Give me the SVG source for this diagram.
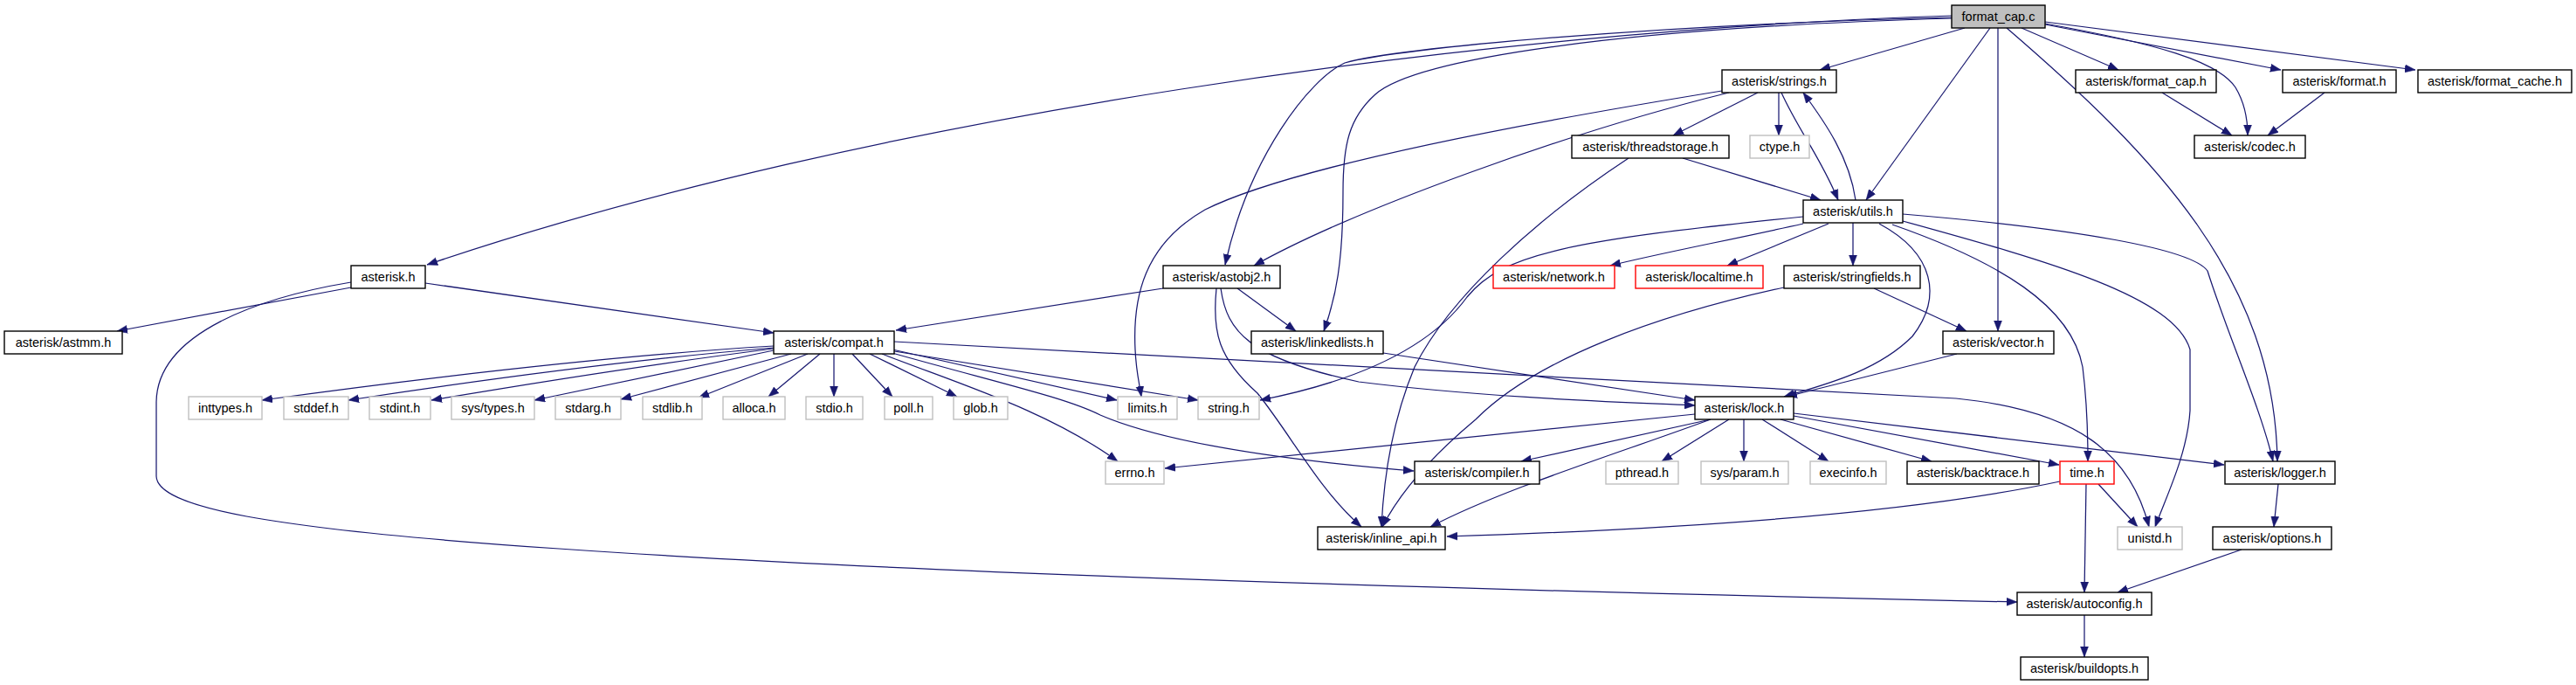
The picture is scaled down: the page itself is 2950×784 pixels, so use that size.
<svg xmlns="http://www.w3.org/2000/svg" width="2950" height="784" viewBox="0 0 2950 784">
<style>
rect{fill:#fff;stroke:#000;stroke-width:1.4}
rect.g{stroke:#bfbfbf}
rect.r{stroke:#ff0000}
rect.root{fill:#bfbfbf}
text{font-family:"Liberation Sans",Arial,sans-serif;font-size:14.5px;fill:#000;text-anchor:middle}
#edges path{fill:none;stroke:#191970;stroke-width:1.25;marker-end:url(#a)}
</style>
<defs>
<marker id="a" markerUnits="userSpaceOnUse" markerWidth="13" markerHeight="10" refX="12" refY="5" orient="auto">
<path d="M0,0.5 L12,5 L0,9.5 z" fill="#191970" stroke="#191970" stroke-width="0.5"/>
</marker>
</defs>
<rect x="0" y="0" width="2950" height="784" style="fill:#fff;stroke:none"/>
<g id="edges">
<path d="M2250,32 L2084,80"/>
<path d="M2235,18 C1700,35 1000,130 489,303"/>
<path d="M2235,20 C1900,28 1600,55 1540,72 C1500,90 1430,180 1403,303"/>
<path d="M2235,21 C1850,32 1620,68 1575,108 C1545,135 1538,165 1538,220 C1538,300 1530,340 1516,379"/>
<path d="M2279,32 L2137,229"/>
<path d="M2288,32 L2288,379"/>
<path d="M2298,32 C2470,180 2605,320 2608,528"/>
<path d="M2315,32 L2426,80"/>
<path d="M2342,28 L2612,80"/>
<path d="M2342,25 L2766,80"/>
<path d="M2342,27 C2470,50 2540,70 2560,100 C2572,120 2574,140 2574,155"/>
<path d="M2013,106 L1916,155"/>
<path d="M2037,106 L2037,155"/>
<path d="M2040,106 C2060,150 2085,180 2105,229"/>
<path d="M2125,229 C2118,180 2090,140 2065,106"/>
<path d="M1972,104 C1750,140 1480,190 1380,240 C1310,280 1297,340 1300,400 C1301,425 1305,440 1307,454"/>
<path d="M1980,106 C1800,150 1550,240 1436,304"/>
<path d="M1927,181 L2085,229"/>
<path d="M1865,181 C1760,250 1660,340 1620,420 C1595,480 1585,540 1582,603"/>
<path d="M2476,106 L2556,155"/>
<path d="M2662,106 L2597,155"/>
<path d="M2065,248 C1800,275 1720,290 1680,340 C1640,395 1560,435 1443,458"/>
<path d="M2065,256 C1980,275 1900,290 1844,304"/>
<path d="M2094,256 L1978,304"/>
<path d="M2122,255 L2122,304"/>
<path d="M2152,256 C2215,290 2225,340 2190,385 C2150,425 2090,440 2043,454"/>
<path d="M2167,257 C2290,300 2372,350 2385,420 C2390,460 2391,500 2391,528"/>
<path d="M2179,253 C2350,300 2490,340 2508,400 L2508,470 C2505,520 2480,570 2468,603"/>
<path d="M2179,245 C2380,262 2510,285 2528,310 C2550,380 2590,470 2603,528"/>
<path d="M2146,330 L2252,379"/>
<path d="M2043,329 C1900,360 1760,410 1690,480 C1630,530 1600,570 1583,603"/>
<path d="M2241,405 L2046,454"/>
<path d="M402,329 L134,379"/>
<path d="M487,324 L886,381"/>
<path d="M402,323 C300,340 180,380 179,460 L179,545 C180,580 300,605 640,628 C1100,660 1800,678 2310,689"/>
<path d="M1332,330 L1026,378"/>
<path d="M1417,330 L1484,379"/>
<path d="M1398,330 C1405,380 1430,410 1556,437 C1700,455 1850,460 1941,464"/>
<path d="M1393,330 C1388,380 1395,410 1440,450 C1480,500 1510,560 1559,603"/>
<path d="M1584,404 L1941,458"/>
<path d="M886,396 Q650,410 300,458"/>
<path d="M886,398 Q680,415 399,458"/>
<path d="M886,399 Q720,420 494,458"/>
<path d="M886,401 Q770,425 612,458"/>
<path d="M906,405 L711,457"/>
<path d="M925,405 L800,455"/>
<path d="M939,405 L880,454"/>
<path d="M955,405 L955,454"/>
<path d="M976,405 L1022,454"/>
<path d="M996,405 L1096,454"/>
<path d="M1022,400 L1279,458"/>
<path d="M1024,402 L1372,458"/>
<path d="M1010,405 C1100,440 1200,470 1280,528"/>
<path d="M1018,403 C1150,440 1220,455 1260,475 C1330,505 1450,525 1619,539"/>
<path d="M1024,391 C1500,420 1900,440 2240,456 C2380,470 2440,520 2461,603"/>
<path d="M1941,474 L1334,536"/>
<path d="M1959,480 L1742,528"/>
<path d="M1980,480 L1903,528"/>
<path d="M1997,480 L1997,528"/>
<path d="M2018,480 L2094,528"/>
<path d="M2039,480 L2212,528"/>
<path d="M2054,476 L2358,532"/>
<path d="M2054,473 L2547,532"/>
<path d="M1959,480 C1850,520 1720,560 1638,603"/>
<path d="M2359,551 C2200,585 1950,605 1657,614"/>
<path d="M2403,554 L2448,603"/>
<path d="M2389,554 L2387,678"/>
<path d="M2609,554 L2604,603"/>
<path d="M2567,629 L2425,678"/>
<path d="M2387,704 L2387,752"/>
</g>
<g id="n_format_cap_c"><rect class="root" x="2235" y="6" width="107" height="26"/><text x="2288.5" y="24">format_cap.c</text></g>
<g id="n_strings"><rect x="1972" y="80" width="131" height="26"/><text x="2037.5" y="98">asterisk/strings.h</text></g>
<g id="n_format_cap_h"><rect x="2377" y="80" width="161" height="26"/><text x="2457.5" y="98">asterisk/format_cap.h</text></g>
<g id="n_format_h"><rect x="2614" y="80" width="130" height="26"/><text x="2679" y="98">asterisk/format.h</text></g>
<g id="n_format_cache"><rect x="2769" y="80" width="176" height="26"/><text x="2857" y="98">asterisk/format_cache.h</text></g>
<g id="n_threadstorage"><rect x="1800" y="155" width="180" height="26"/><text x="1890" y="173">asterisk/threadstorage.h</text></g>
<g id="n_ctype"><rect class="g" x="2004" y="155" width="68" height="26"/><text x="2038" y="173">ctype.h</text></g>
<g id="n_codec"><rect x="2513" y="155" width="127" height="26"/><text x="2576.5" y="173">asterisk/codec.h</text></g>
<g id="n_utils"><rect x="2065" y="229" width="114" height="26"/><text x="2122" y="247">asterisk/utils.h</text></g>
<g id="n_asterisk"><rect x="402" y="304" width="85" height="26"/><text x="444.5" y="322">asterisk.h</text></g>
<g id="n_astobj2"><rect x="1332" y="304" width="134" height="26"/><text x="1399" y="322">asterisk/astobj2.h</text></g>
<g id="n_network"><rect class="r" x="1710" y="304" width="139" height="26"/><text x="1779.5" y="322">asterisk/network.h</text></g>
<g id="n_localtime"><rect class="r" x="1873" y="304" width="146" height="26"/><text x="1946" y="322">asterisk/localtime.h</text></g>
<g id="n_stringfields"><rect x="2043" y="304" width="156" height="26"/><text x="2121" y="322">asterisk/stringfields.h</text></g>
<g id="n_astmm"><rect x="5" y="379" width="135" height="26"/><text x="72.5" y="397">asterisk/astmm.h</text></g>
<g id="n_compat"><rect x="886" y="379" width="138" height="26"/><text x="955" y="397">asterisk/compat.h</text></g>
<g id="n_linkedlists"><rect x="1433" y="379" width="151" height="26"/><text x="1508.5" y="397">asterisk/linkedlists.h</text></g>
<g id="n_vector"><rect x="2225" y="379" width="127" height="26"/><text x="2288.5" y="397">asterisk/vector.h</text></g>
<g id="n_inttypes"><rect class="g" x="216" y="454" width="84" height="26"/><text x="258" y="472">inttypes.h</text></g>
<g id="n_stddef"><rect class="g" x="325" y="454" width="74" height="26"/><text x="362" y="472">stddef.h</text></g>
<g id="n_stdint"><rect class="g" x="423" y="454" width="70" height="26"/><text x="458" y="472">stdint.h</text></g>
<g id="n_systypes"><rect class="g" x="517" y="454" width="95" height="26"/><text x="564.5" y="472">sys/types.h</text></g>
<g id="n_stdarg"><rect class="g" x="636" y="454" width="75" height="26"/><text x="673.5" y="472">stdarg.h</text></g>
<g id="n_stdlib"><rect class="g" x="736" y="454" width="68" height="26"/><text x="770" y="472">stdlib.h</text></g>
<g id="n_alloca"><rect class="g" x="828" y="454" width="71" height="26"/><text x="863.5" y="472">alloca.h</text></g>
<g id="n_stdio"><rect class="g" x="923" y="454" width="65" height="26"/><text x="955.5" y="472">stdio.h</text></g>
<g id="n_poll"><rect class="g" x="1013" y="454" width="55" height="26"/><text x="1040.5" y="472">poll.h</text></g>
<g id="n_glob"><rect class="g" x="1092" y="454" width="62" height="26"/><text x="1123" y="472">glob.h</text></g>
<g id="n_limits"><rect class="g" x="1280" y="454" width="68" height="26"/><text x="1314" y="472">limits.h</text></g>
<g id="n_string"><rect class="g" x="1372" y="454" width="70" height="26"/><text x="1407" y="472">string.h</text></g>
<g id="n_lock"><rect x="1941" y="454" width="113" height="26"/><text x="1997.5" y="472">asterisk/lock.h</text></g>
<g id="n_errno"><rect class="g" x="1266" y="528" width="67" height="26"/><text x="1299.5" y="546">errno.h</text></g>
<g id="n_compiler"><rect x="1620" y="528" width="143" height="26"/><text x="1691.5" y="546">asterisk/compiler.h</text></g>
<g id="n_pthread"><rect class="g" x="1839" y="528" width="83" height="26"/><text x="1880.5" y="546">pthread.h</text></g>
<g id="n_sysparam"><rect class="g" x="1948" y="528" width="100" height="26"/><text x="1998" y="546">sys/param.h</text></g>
<g id="n_execinfo"><rect class="g" x="2073" y="528" width="87" height="26"/><text x="2116.5" y="546">execinfo.h</text></g>
<g id="n_backtrace"><rect x="2184" y="528" width="151" height="26"/><text x="2259.5" y="546">asterisk/backtrace.h</text></g>
<g id="n_time"><rect class="r" x="2359" y="528" width="62" height="26"/><text x="2390" y="546">time.h</text></g>
<g id="n_logger"><rect x="2548" y="528" width="126" height="26"/><text x="2611" y="546">asterisk/logger.h</text></g>
<g id="n_inline_api"><rect x="1509" y="603" width="146" height="26"/><text x="1582" y="621">asterisk/inline_api.h</text></g>
<g id="n_unistd"><rect class="g" x="2425" y="603" width="74" height="26"/><text x="2462" y="621">unistd.h</text></g>
<g id="n_options"><rect x="2534" y="603" width="136" height="26"/><text x="2602" y="621">asterisk/options.h</text></g>
<g id="n_autoconfig"><rect x="2310" y="678" width="154" height="26"/><text x="2387" y="696">asterisk/autoconfig.h</text></g>
<g id="n_buildopts"><rect x="2314" y="752" width="146" height="26"/><text x="2387" y="770">asterisk/buildopts.h</text></g>
</svg>
